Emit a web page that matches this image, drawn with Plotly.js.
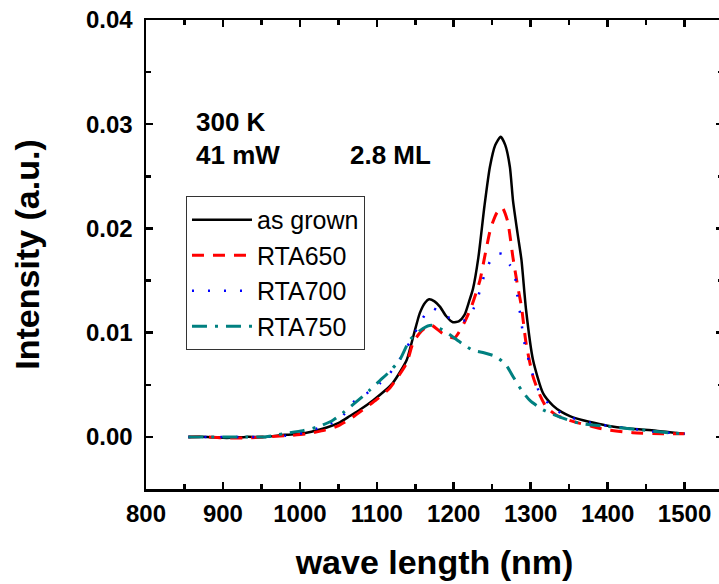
<!DOCTYPE html>
<html>
<head>
<meta charset="utf-8">
<script src="https://cdn.plot.ly/plotly-3.0.1.min.js"></script>
<style>
html,body{margin:0;padding:0;overflow:hidden;background:#fff;}
#chart{width:726px;height:584px;}
</style>
</head>
<body>
<div id="chart"></div>
<script>
// ---- data ----
const seriesNames = ["as grown", "RTA650", "RTA700", "RTA750"];

const wlAsGrown = [855,880,905,930,955,980,1000,1015,1035,1052,1065,1078,1095,1110,1121,1130,1139,1148,1156,1163,1168,1175,1182,1190,1199,1207,1214,1220,1225,1232,1240,1247,1254,1261,1267,1273,1277,1283,1288,1294,1303,1316,1329,1340,1351,1368,1385,1398,1428,1463,1500];
const intAsGrown = [0,0,-0.0001,0,0,0.0002,0.0003,0.0005,0.0009,0.0014,0.0020,0.0026,0.0035,0.0044,0.0052,0.0062,0.0074,0.0098,0.0119,0.0129,0.0132,0.0130,0.0125,0.0116,0.0110,0.0111,0.0117,0.0130,0.0142,0.0172,0.0222,0.0259,0.0280,0.0288,0.0280,0.0259,0.0227,0.0195,0.0170,0.0122,0.0074,0.0042,0.0030,0.0024,0.0020,0.0016,0.0013,0.0011,0.0008,0.0006,0.0003];

const wlRTA650 = [855,880,905,930,955,980,1009,1030,1048,1065,1082,1100,1117,1128,1139,1147,1155,1162,1171,1186,1201,1214,1223,1234,1240,1248,1256,1263,1270,1277,1283,1288,1294,1303,1312,1320,1333,1350,1364,1380,1398,1433,1472,1500];
const intRTA650 = [0,0,-0.0001,-0.0001,0,0.0001,0.0003,0.0006,0.0010,0.0017,0.0026,0.0036,0.0047,0.0058,0.0071,0.0090,0.0099,0.0104,0.0107,0.0099,0.0095,0.0110,0.0125,0.0150,0.0172,0.0200,0.0215,0.0220,0.0207,0.0172,0.0145,0.0125,0.0090,0.0058,0.0040,0.0029,0.0021,0.0016,0.0013,0.0010,0.0007,0.0004,0.0003,0.0003];

const wlRTA700 = [855,880,905,930,955,980,1000,1030,1052,1069,1082,1095,1105,1117,1130,1143,1156,1165,1171,1180,1195,1205,1216,1229,1236,1242,1250,1258,1266,1273,1279,1282,1288,1291,1303,1312,1330,1351,1380,1420,1460,1500];
const intRTA700 = [0,0,0,0,0,0.0001,0.0003,0.0010,0.0017,0.0033,0.0040,0.0045,0.0052,0.0061,0.0075,0.0091,0.0109,0.0120,0.0124,0.0121,0.0114,0.0112,0.0112,0.0128,0.0146,0.0160,0.0172,0.0176,0.0175,0.0165,0.0157,0.0139,0.0110,0.0093,0.0059,0.0042,0.0027,0.0019,0.0013,0.0009,0.0005,0.0003];

const wlRTA750 = [855,880,905,930,955,978,1004,1025,1043,1056,1074,1091,1104,1117,1130,1143,1160,1171,1182,1195,1210,1225,1238,1255,1268,1277,1288,1299,1316,1338,1364,1400,1440,1480,1500];
const intRTA750 = [0,0,0,0,0,0.0003,0.0006,0.0010,0.0016,0.0023,0.0034,0.0045,0.0054,0.0063,0.0074,0.0093,0.0104,0.0107,0.0104,0.0098,0.0090,0.0083,0.0081,0.0077,0.0069,0.0058,0.0045,0.0035,0.0026,0.0019,0.0013,0.0010,0.0007,0.0004,0.0003];

const annoTexts = ["300 K", "41 mW", "2.8 ML"];

// ---- styles ----
const FONT = "Liberation Sans, Arial, Helvetica, sans-serif";
const styles = [
  {color:"#000000", width:2.5, dash:"solid"},
  {color:"#ff0000", width:3,   dash:"12px,9px"},
  {color:"#0000ff", width:2.5, dash:"2px,14px"},
  {color:"#008080", width:3,   dash:"15px,8px,3px,8px"}
];
const xs = [wlAsGrown, wlRTA650, wlRTA700, wlRTA750];
const ys = [intAsGrown, intRTA650, intRTA700, intRTA750];

const traces = seriesNames.map((n,i)=>({
  type:"scatter", mode:"lines", name:n,
  x:xs[i], y:ys[i],
  line:{color:styles[i].color, width:styles[i].width, dash:styles[i].dash, shape:"spline", smoothing:0.6}
}));

const axisCommon = {
  showgrid:false, zeroline:false, showline:true, linecolor:"#000", linewidth:2.5,
  mirror:"ticks", ticks:"inside", ticklen:7, tickwidth:2.5, tickcolor:"#000",
  tickfont:{family:FONT, size:24, color:"#000", weight:"bold"}
};

const layout = {
  width:726, height:584,
  margin:{l:146, r:3, t:20, b:95},
  paper_bgcolor:"#ffffff", plot_bgcolor:"rgba(0,0,0,0)",
  showlegend:true,
  legend:{
    x:0.0693, y:0.625, xanchor:"left", yanchor:"top",
    bgcolor:"#ffffff", bordercolor:"#333", borderwidth:1,
    font:{family:FONT, size:25, color:"#000"},
    itemwidth:60, tracegroupgap:0
  },
  xaxis:Object.assign({}, axisCommon, {
    range:[800,1550], tickmode:"linear", tick0:800, dtick:100,
    minor:{tickmode:"linear", tick0:850, dtick:100, ticks:"inside", ticklen:5, tickwidth:2.5, tickcolor:"#000", showgrid:false},
    ticklabelstandoff:2,
    title:{text:"wave length (nm)", font:{family:FONT, size:34, color:"#000", weight:"bold"}, standoff:24}
  }),
  yaxis:Object.assign({}, axisCommon, {
    range:[-0.005,0.04], tickmode:"linear", tick0:0, dtick:0.01, tickformat:".2f",
    minor:{tickmode:"linear", tick0:0.005, dtick:0.01, ticks:"inside", ticklen:5, tickwidth:2.5, tickcolor:"#000", showgrid:false},
    ticklabelstandoff:6,
    title:{text:"Intensity (a.u.)", font:{family:FONT, size:34, color:"#000", weight:"bold"}, standoff:36}
  }),
  annotations:[
    {text:annoTexts[0], xref:"paper", yref:"paper", x:0.083, y:0.7825, xanchor:"left", yanchor:"middle", showarrow:false, font:{family:FONT, size:26, color:"#000", weight:"bold"}},
    {text:annoTexts[1], xref:"paper", yref:"paper", x:0.083, y:0.712, xanchor:"left", yanchor:"middle", showarrow:false, font:{family:FONT, size:26, color:"#000", weight:"bold"}},
    {text:annoTexts[2], xref:"paper", yref:"paper", x:0.350, y:0.712, xanchor:"left", yanchor:"middle", showarrow:false, font:{family:FONT, size:26, color:"#000", weight:"bold"}}
  ]
};

Plotly.newPlot("chart", traces, layout, {staticPlot:true, displayModeBar:false});
</script>
</body>
</html>
